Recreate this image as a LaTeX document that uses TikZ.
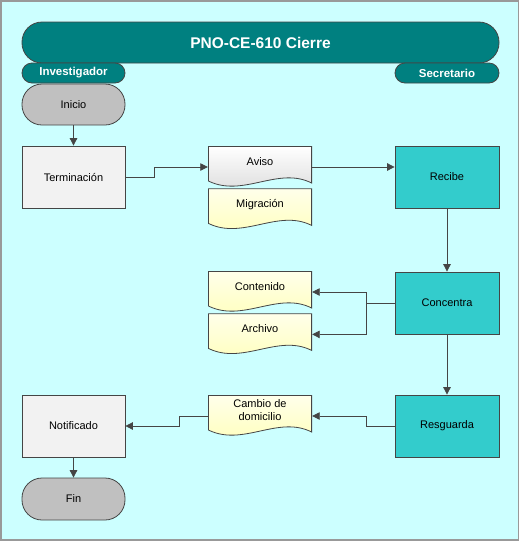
\documentclass[tikz,border=0pt]{standalone}
\usepackage{fontspec}
\setmainfont{Liberation Sans}
\usetikzlibrary{positioning, arrows.meta, calc}

\definecolor{fondo}{HTML}{CCFFFF}
\definecolor{verdeazul}{HTML}{008080}
\definecolor{turquesa}{HTML}{33CCCC}
\definecolor{gristerm}{HTML}{C0C0C0}
\definecolor{grisproc}{HTML}{F2F2F2}
\definecolor{linea}{HTML}{454545}
\definecolor{amarillo}{HTML}{FFFFB8}

\tikzset{
    borde/.style={draw=linea, line width=0.8pt},
    texto/.style={font=\fontsize{11}{13}\selectfont, text=black, align=center},
    titulo/.style={borde, fill=verdeazul, rounded corners=20pt, minimum width=477pt, minimum height=41pt,
        font=\fontsize{15.5}{18}\selectfont\bfseries, text=white},
    carril/.style={borde, fill=verdeazul, rounded corners=10pt, minimum width=103pt, minimum height=20pt,
        font=\fontsize{11.5}{13}\selectfont\bfseries, text=white},
    terminal/.style={borde, texto, fill=gristerm, rounded corners=20pt, minimum width=103pt, minimum height=41pt},
    proceso/.style={borde, texto, fill=grisproc, minimum width=103pt, minimum height=62pt},
    tarea/.style={borde, texto, fill=turquesa, minimum width=104pt, minimum height=62pt},
    documento/.style={texto, inner sep=0pt, minimum width=104pt, minimum height=42pt,
        text height=8pt, text depth=12pt,
        path picture={
            \draw[borde, #1] ([shift={(0.4pt,-0.4pt)}]path picture bounding box.north west)
                -- ([shift={(-0.4pt,-0.4pt)}]path picture bounding box.north east)
                -- ([shift={(-0.4pt,5pt)}]path picture bounding box.south east)
                .. controls ([shift={(-34pt,22pt)}]path picture bounding box.south east)
                and ([shift={(35pt,-10pt)}]path picture bounding box.south west)
                .. ([shift={(0.4pt,7pt)}]path picture bounding box.south west) -- cycle;
        }},
    flecha/.style={draw=linea, line width=0.8pt, -{Triangle[length=7.5pt,width=7.5pt]}},
}

\begin{document}
\begin{tikzpicture}[x=1pt, y=-1pt]
    % page
    \useasboundingbox (0,0) rectangle (521,542);
    \draw[draw=gray!80, line width=1.5pt, fill=fondo] (1,1) rectangle (518.5,540);

    % header and lanes
    \node[titulo] (cabecera) at (260.5,42.5) {PNO-CE-610 Cierre};
    \node[carril] (investigador) at (73.5,73) {Investigador};
    \node[carril, minimum width=104pt] (secretario) at (447,73) {Secretario};

    % Investigador
    \node[terminal] (inicio) at (73.5,104.5) {Inicio};
    \node[proceso] (terminacion) at (73.5,177) {Terminación};
    \node[proceso] (notificado) at (73.5,426) {Notificado};
    \node[terminal, minimum height=42pt] (fin) at (73.5,499) {Fin};

    % documentos
    \node[documento={top color=white, bottom color=gray!30}] (aviso) at (260,167) {Aviso};
    \node[documento={top color=yellow!8, bottom color=amarillo}, below=0pt of aviso] (migracion) {Migración};
    \node[documento={top color=yellow!8, bottom color=amarillo}] (contenido) at (260,292) {Contenido};
    \node[documento={top color=yellow!8, bottom color=amarillo}, below=0pt of contenido] (archivo) {Archivo};
    \node[documento={top color=yellow!8, bottom color=amarillo}, text height=21pt, text depth=12pt]
        (cambio) at (260,416) {Cambio de\\domicilio};

    % Secretario
    \node[tarea] (recibe) at (447,177) {Recibe};
    \node[tarea] (concentra) at (447,303) {Concentra};
    \node[tarea] (resguarda) at (447,426) {Resguarda};

    % flujo
    \draw[flecha] (inicio) -- (terminacion);
    \draw[flecha] (terminacion.east) -- ++(29,0) |- (aviso.west);
    \draw[flecha] (aviso.east) -- (aviso.east -| recibe.west);
    \draw[flecha] (recibe) -- (concentra);
    \coordinate (reparto) at ($(concentra.west)+(-28,0)$);
    \draw[flecha] (concentra.west) -- (reparto) |- (contenido.east);
    \draw[flecha] (concentra.west) -- (reparto) |- (archivo.east);
    \draw[flecha] (concentra) -- (resguarda);
    \draw[flecha] (resguarda.west) -- ++(-28,0) |- (cambio.east);
    \draw[flecha] (cambio.west) -- ++(-28,0) |- (notificado.east);
    \draw[flecha] (notificado) -- (fin);
\end{tikzpicture}
\end{document}
